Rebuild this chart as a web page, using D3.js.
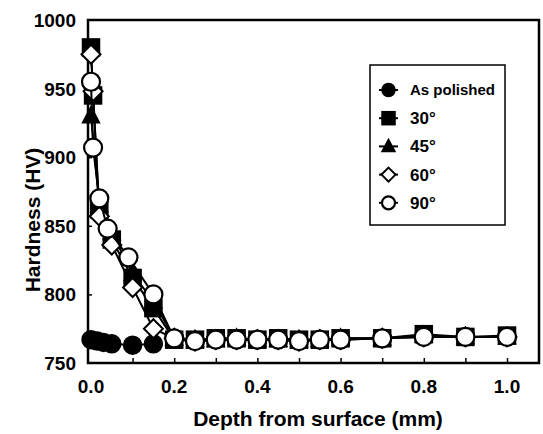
<!DOCTYPE html>
<html>
<head>
<meta charset="utf-8">
<script src="https://cdn.jsdelivr.net/npm/d3@7"></script>
<style>
  body { margin: 0; background: #fff; }
  text { font-family: "Liberation Sans", Arial, sans-serif; font-weight: bold; fill: #000; }
</style>
</head>
<body>
<div id="vis"></div>
<script>
// frame size
const WIDTH = 543;
const HEIGHT = 434;
const PLOT = {left : 88, right : 539, top : 20, bottom : 363};

// data
const SERIES_NAMES = ["As polished", "30\u00b0", "45\u00b0", "60\u00b0", "90\u00b0"];
const SERIES_SHAPES = ["circleFill", "square", "triangle", "diamond", "circleOpen"];

const DEPTH_POLISHED = [0, 0.015, 0.03, 0.05, 0.1, 0.15];
const HV_POLISHED = [767, 766, 765, 764, 763, 764];

const DEPTH_30 = [0, 0.005, 0.02, 0.05, 0.1, 0.15, 0.2, 0.25, 0.3, 0.35, 0.4, 0.45, 0.5, 0.55, 0.6, 0.7, 0.8, 0.9, 1.0];
const HV_30 = [980, 945, 862, 840, 812, 790, 767, 767, 768, 768, 767, 768, 767, 767, 768, 768, 771, 769, 770];

const DEPTH_45 = [0, 0.02, 0.05, 0.1, 0.15, 0.2, 0.25, 0.3, 0.35, 0.4, 0.45, 0.5, 0.55, 0.6, 0.7, 0.8, 0.9, 1.0];
const HV_45 = [930, 865, 845, 815, 795, 768, 767, 767, 768, 767, 767, 767, 767, 768, 768, 770, 769, 769];

const DEPTH_60 = [0, 0.005, 0.02, 0.05, 0.1, 0.15, 0.2, 0.25, 0.3, 0.35, 0.4, 0.45, 0.5, 0.55, 0.6, 0.7, 0.8, 0.9, 1.0];
const HV_60 = [975, 948, 857, 836, 805, 775, 768, 766, 767, 767, 767, 767, 766, 767, 767, 768, 769, 769, 769];

const DEPTH_90 = [0, 0.005, 0.02, 0.04, 0.09, 0.15, 0.2, 0.25, 0.3, 0.35, 0.4, 0.45, 0.5, 0.55, 0.6, 0.7, 0.8, 0.9, 1.0];
const HV_90 = [955, 907, 870, 848, 827, 800, 768, 766, 767, 767, 767, 767, 766, 767, 767, 768, 769, 769, 769];

const X_TICKS = [0, 0.2, 0.4, 0.6, 0.8, 1.0];
const X_MINOR = [0.1, 0.2, 0.3, 0.4, 0.5, 0.6, 0.7, 0.8, 0.9, 1.0];
const Y_TICKS = [750, 800, 850, 900, 950, 1000];

const ALL = [
  {name : SERIES_NAMES[0], shape : SERIES_SHAPES[0], x : DEPTH_POLISHED, y : HV_POLISHED},
  {name : SERIES_NAMES[1], shape : SERIES_SHAPES[1], x : DEPTH_30, y : HV_30},
  {name : SERIES_NAMES[2], shape : SERIES_SHAPES[2], x : DEPTH_45, y : HV_45},
  {name : SERIES_NAMES[3], shape : SERIES_SHAPES[3], x : DEPTH_60, y : HV_60},
  {name : SERIES_NAMES[4], shape : SERIES_SHAPES[4], x : DEPTH_90, y : HV_90}
];

// scales (x = 0 sits a little right of the frame)
const X_SCALE = d3.scaleLinear().domain([0, 1]).range([91, 507]);
const Y_SCALE = d3.scaleLinear().domain([750, 1000]).range([PLOT.bottom, PLOT.top]);

const FRAME = d3.select("#vis")
  .append("svg")
    .attr("width", WIDTH)
    .attr("height", HEIGHT);

// draws one marker at cx, cy
function marker(g, shape, cx, cy, s) {
  if (shape == "circleFill") {
    g.append("circle").attr("cx", cx).attr("cy", cy).attr("r", s)
      .attr("fill", "#000").attr("stroke", "#000").attr("stroke-width", 1.5);
  } else if (shape == "circleOpen") {
    g.append("circle").attr("cx", cx).attr("cy", cy).attr("r", s)
      .attr("fill", "#fff").attr("stroke", "#000").attr("stroke-width", 2.2);
  } else if (shape == "square") {
    g.append("rect").attr("x", cx - s).attr("y", cy - s)
      .attr("width", 2 * s).attr("height", 2 * s)
      .attr("fill", "#000").attr("stroke", "#000").attr("stroke-width", 1.5);
  } else if (shape == "triangle") {
    g.append("path")
      .attr("d", "M" + cx + "," + (cy - s * 1.1) + "L" + (cx + s) + "," + (cy + s * 0.8) + "L" + (cx - s) + "," + (cy + s * 0.8) + "Z")
      .attr("fill", "#000").attr("stroke", "#000").attr("stroke-width", 1.5);
  } else {
    g.append("path")
      .attr("d", "M" + cx + "," + (cy - s) + "L" + (cx + s) + "," + cy + "L" + cx + "," + (cy + s) + "L" + (cx - s) + "," + cy + "Z")
      .attr("fill", "#fff").attr("stroke", "#000").attr("stroke-width", 2);
  }
}

// frame box
FRAME.append("rect")
  .attr("x", PLOT.left).attr("y", PLOT.top)
  .attr("width", PLOT.right - PLOT.left).attr("height", PLOT.bottom - PLOT.top)
  .attr("fill", "none").attr("stroke", "#000").attr("stroke-width", 2.5);

// x axis: ticks inside, labels below
const xAxis = FRAME.append("g")
  .attr("transform", "translate(0," + PLOT.bottom + ")")
  .call(d3.axisTop(X_SCALE).tickValues(X_MINOR).tickSize(5).tickFormat(""));
xAxis.select(".domain").remove();
xAxis.selectAll("line").attr("stroke-width", 1.5);

FRAME.append("g").selectAll("text")
  .data(X_TICKS)
  .enter().append("text")
    .attr("x", (d) => { return X_SCALE(d); })
    .attr("y", 393)
    .attr("text-anchor", "middle")
    .attr("font-size", "19px")
    .text((d) => { return d.toFixed(1); });

// y axis: ticks inside, labels left
const yAxis = FRAME.append("g")
  .attr("transform", "translate(" + PLOT.left + ",0)")
  .call(d3.axisRight(Y_SCALE).tickValues([800, 850, 900, 950]).tickSize(4).tickFormat(""));
yAxis.select(".domain").remove();
yAxis.selectAll("line").attr("stroke-width", 1.5);

FRAME.append("g").selectAll("text")
  .data(Y_TICKS)
  .enter().append("text")
    .attr("x", 76)
    .attr("y", (d) => { return Y_SCALE(d) + 7; })
    .attr("text-anchor", "end")
    .attr("font-size", "19px")
    .text((d) => { return d; });

// axis titles
FRAME.append("text")
  .attr("x", 318).attr("y", 426)
  .attr("text-anchor", "middle")
  .attr("font-size", "21px")
  .text("Depth from surface (mm)");

FRAME.append("text")
  .attr("transform", "translate(40,220) rotate(-90)")
  .attr("text-anchor", "middle")
  .attr("font-size", "21px")
  .text("Hardness (HV)");

// series lines and markers
const LINE = d3.line()
  .x((d) => { return X_SCALE(d[0]); })
  .y((d) => { return Y_SCALE(d[1]); });

ALL.forEach((s) => {
  const pts = s.x.map((v, i) => { return [v, s.y[i]]; });
  const g = FRAME.append("g");
  g.append("path")
    .attr("d", LINE(pts))
    .attr("fill", "none")
    .attr("stroke", "#000")
    .attr("stroke-width", 2);
  const size = s.shape == "diamond" ? 9.5 : (s.shape == "circleOpen" || s.shape == "circleFill" ? 9 : 8.5);
  pts.forEach((p) => { marker(g, s.shape, X_SCALE(p[0]), Y_SCALE(p[1]), size); });
});

// legend
const LEG = FRAME.append("g");
LEG.append("rect")
  .attr("x", 370).attr("y", 65)
  .attr("width", 135).attr("height", 160)
  .attr("fill", "#fff").attr("stroke", "#000").attr("stroke-width", 1.5);

ALL.forEach((s, i) => {
  const cy = 90 + i * 28.2;
  LEG.append("line")
    .attr("x1", 379).attr("x2", 398)
    .attr("y1", cy).attr("y2", cy)
    .attr("stroke", "#000").attr("stroke-width", 2);
  marker(LEG, s.shape, 388.5, cy, s.shape == "diamond" ? 7 : 6.5);
  LEG.append("text")
    .attr("x", 410)
    .attr("y", cy + (i == 0 ? 5 : 6))
    .attr("font-size", i == 0 ? "15px" : "17px")
    .text(s.name);
});
</script>
</body>
</html>
